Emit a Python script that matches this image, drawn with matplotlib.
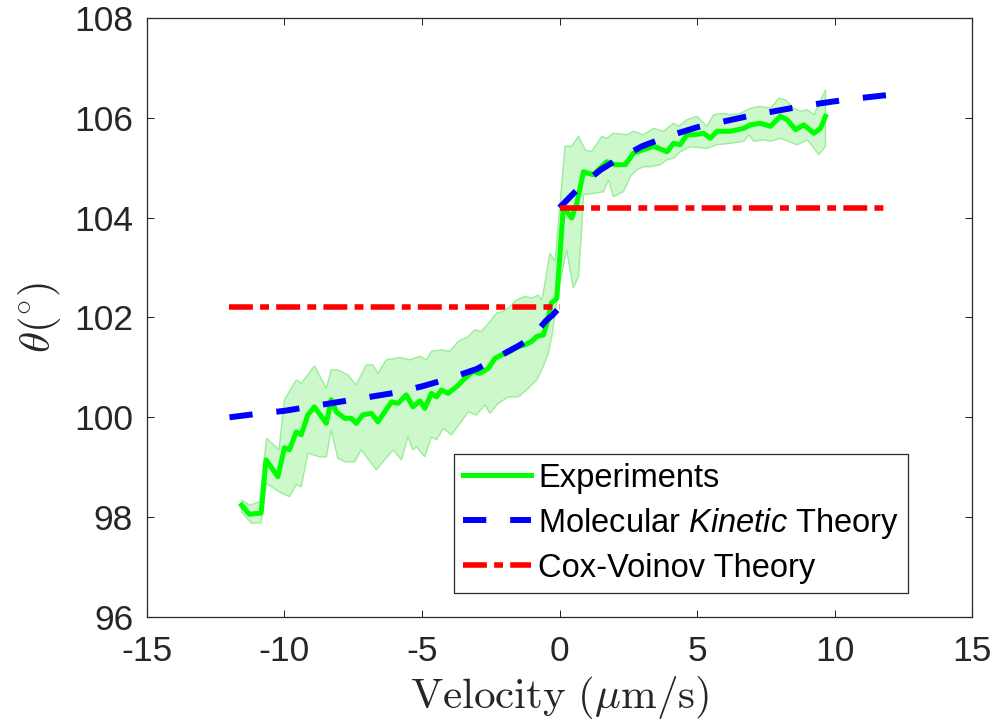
import matplotlib
matplotlib.use('Agg')
import matplotlib.pyplot as plt
import numpy as np

plt.rcParams['font.family'] = ['Liberation Sans', 'DejaVu Sans']
plt.rcParams['mathtext.fontset'] = 'custom'
plt.rcParams['mathtext.rm'] = 'Liberation Sans'
plt.rcParams['mathtext.it'] = 'Liberation Sans:italic'
plt.rcParams['axes.unicode_minus'] = False

# experiments: mean contact angle vs velocity
x_exp = [-11.56, -11.28, -10.85, -10.67, -10.24, -10.0, -9.82, -9.57, -9.39, -9.15,
         -8.91, -8.48, -8.30, -8.12, -7.81, -7.57, -7.39, -7.15, -6.84, -6.60,
         -6.11, -5.87, -5.57, -5.33, -5.08, -4.90, -4.66, -4.47, -4.29, -4.05,
         -3.75, -3.44, -3.14, -2.90, -2.59, -2.35, -2.11, -1.80, -1.50, -1.26,
         -1.01, -0.83, -0.59, -0.45, -0.30, -0.10, 0.02, 0.14, 0.44, 0.63,
         0.87, 1.23, 1.72, 2.02, 2.39, 2.69, 3.05, 3.42, 3.60, 3.91,
         4.15, 4.39, 4.63, 4.87, 5.24, 5.48, 5.73, 6.21, 6.46, 6.70,
         6.94, 7.30, 7.67, 8.03, 8.28, 8.58, 8.88, 9.25, 9.49, 9.67]
y_exp = [98.24, 98.06, 98.08, 99.15, 98.81, 99.39, 99.35, 99.71, 99.65, 100.05,
         100.21, 99.88, 100.35, 100.11, 99.98, 99.98, 99.88, 100.05, 100.08, 99.91,
         100.31, 100.28, 100.45, 100.21, 100.33, 100.18, 100.48, 100.41, 100.55, 100.48,
         100.61, 100.78, 100.92, 100.88, 100.98, 101.18, 101.25, 101.32, 101.42, 101.45,
         101.52, 101.62, 101.65, 101.90, 102.29, 102.38, 103.30, 104.22, 103.99, 104.29,
         104.92, 104.86, 105.12, 105.06, 105.06, 105.29, 105.36, 105.43, 105.39, 105.32,
         105.49, 105.46, 105.66, 105.66, 105.69, 105.59, 105.73, 105.73, 105.76, 105.79,
         105.86, 105.89, 105.83, 106.03, 105.96, 105.76, 105.86, 105.69, 105.79, 106.03]

# spread of the experiments (upper / lower edge)
x_up = [-11.56, -11.25, -10.9, -10.65, -10.2, -10.0, -9.57, -9.39, -8.91, -8.48,
        -8.30, -8.06, -7.7, -7.39, -7.03, -6.79, -6.6, -6.3, -5.8, -5.45,
        -5.08, -4.84, -4.66, -4.29, -3.99, -3.69, -3.32, -3.08, -2.83, -2.53,
        -2.28, -2.05, -1.80, -1.56, -1.26, -1.01, -0.77, -0.65, -0.59, -0.35,
        -0.16, 0.20, 0.44, 0.69, 0.93, 1.17, 1.54, 1.72, 1.96, 2.45,
        2.69, 3.05, 3.42, 3.78, 4.15, 4.33, 4.63, 5.00, 5.36, 5.60,
        5.97, 6.21, 6.58, 6.94, 7.30, 7.67, 7.97, 8.21, 8.52, 8.76,
        9.01, 9.25, 9.67]
y_up = [98.34, 98.24, 98.31, 99.58, 99.35, 100.35, 100.75, 100.68, 101.03, 100.58,
        100.95, 100.95, 100.85, 100.65, 101.05, 101.05, 100.88, 101.15, 101.20, 101.15,
        101.22, 101.15, 101.32, 101.35, 101.32, 101.52, 101.62, 101.75, 101.72, 101.92,
        102.09, 102.12, 102.22, 102.35, 102.42, 102.39, 102.45, 102.35, 102.49, 103.29,
        103.12, 105.43, 105.43, 105.63, 105.36, 105.32, 105.63, 105.59, 105.69, 105.66,
        105.73, 105.66, 105.79, 105.73, 105.89, 105.83, 105.96, 106.03, 105.83, 106.06,
        106.09, 106.06, 106.09, 106.19, 106.23, 106.19, 106.39, 106.36, 106.19, 106.13,
        106.16, 106.06, 106.56]
x_lo = [-11.56, -11.2, -10.85, -10.67, -10.2, -9.82, -9.57, -9.39, -9.15, -8.72,
        -8.48, -8.30, -8.06, -7.81, -7.45, -7.21, -6.66, -6.05, -5.75, -5.51,
        -5.33, -5.20, -4.90, -4.66, -4.47, -4.23, -3.93, -3.62, -3.32, -3.02,
        -2.71, -2.53, -2.23, -1.86, -1.50, -1.14, -0.83, -0.59, -0.41, -0.28,
        -0.16, 0.02, 0.26, 0.50, 0.69, 0.81, 0.87, 1.29, 1.60, 1.78,
        1.96, 2.32, 2.57, 2.81, 3.05, 3.30, 3.66, 3.91, 4.15, 4.39,
        4.75, 5.36, 5.73, 6.21, 6.70, 6.88, 7.06, 7.43, 7.67, 8.03,
        8.64, 9.01, 9.43, 9.67]
y_lo = [98.10, 97.88, 97.89, 98.68, 98.51, 98.41, 98.65, 98.61, 99.28, 99.21,
        99.21, 99.75, 99.18, 99.11, 99.11, 99.35, 98.95, 99.35, 99.15, 99.61,
        99.35, 99.41, 99.21, 99.61, 99.55, 99.78, 99.65, 99.88, 100.11, 100.05,
        100.25, 100.08, 100.28, 100.41, 100.41, 100.58, 100.75, 101.02, 101.28, 101.62,
        102.09, 102.70, 103.36, 102.59, 102.82, 103.82, 104.46, 104.49, 104.52, 104.76,
        104.42, 104.52, 104.82, 104.96, 105.02, 105.02, 105.06, 105.16, 105.19, 105.32,
        105.42, 105.39, 105.46, 105.49, 105.53, 105.66, 105.53, 105.56, 105.53, 105.59,
        105.46, 105.56, 105.26, 105.43]

# molecular kinetic theory (receding branch, advancing branch)
x_mkt_r = [-12, -11, -10, -9, -8, -7, -6, -5, -4, -3, -2, -1.5, -1, -0.5, -0.25, 0]
y_mkt_r = [100.0, 100.07, 100.13, 100.22, 100.31, 100.40, 100.49, 100.62, 100.78, 100.97,
           101.28, 101.43, 101.60, 101.93, 102.05, 102.2]
x_mkt_a = [0, 0.5, 1, 1.5, 2, 3, 4, 5, 6, 7, 8, 9, 10, 11, 12]
y_mkt_a = [104.2, 104.48, 104.74, 104.96, 105.13, 105.43, 105.64, 105.81, 105.93, 106.05,
           106.15, 106.25, 106.33, 106.40, 106.46]

# cox-voinov theory
x_cv = [-12, 0, np.nan, 0, 12]
y_cv = [102.2, 102.2, np.nan, 104.2, 104.2]

fig = plt.figure(figsize=(9.97, 7.27), dpi=100)
ax = fig.add_axes([0.1474, 0.1513, 0.8276, 0.824])

band_x = x_up + x_lo[::-1]
band_y = y_up + y_lo[::-1]
ax.fill(band_x, band_y, facecolor='#ccf8cc', edgecolor='#9cec9c', linewidth=1.0, zorder=1)

ax.plot(x_exp, y_exp, color=(0, 1, 0), linewidth=3.6, label='Experiments', zorder=2)
ax.plot(x_mkt_r, y_mkt_r, color=(0, 0, 1), linewidth=4.3, dashes=(3.9, 4.0),
        label=r'Molecular $\mathit{Kinetic}$ Theory', zorder=3)
ax.plot(x_mkt_a, y_mkt_a, color=(0, 0, 1), linewidth=4.3, dashes=(3.9, 4.0), zorder=3)
ax.plot(x_cv, y_cv, color=(1, 0, 0), linewidth=4.0, dashes=(4.3, 1.3, 1.6, 1.3),
        label='Cox-Voinov Theory', zorder=4)

ax.set_xlim(-15, 15)
ax.set_ylim(96, 108)
ax.set_xticks(np.arange(-15, 16, 5))
ax.set_yticks(np.arange(96, 109, 2))

dark = (0.15, 0.15, 0.15)
for s in ax.spines.values():
    s.set_color(dark)
    s.set_linewidth(0.9)
ax.tick_params(axis='both', direction='in', length=5, width=0.75, color=dark,
               labelcolor=dark, labelsize=25.5, top=True, right=True)
ax.tick_params(axis='x', pad=13)
ax.tick_params(axis='y', pad=10)

ax.set_xlabel(r'$\mathrm{Velocity}\ (\mu\mathrm{m/s})$', fontsize=31, math_fontfamily='cm',
              labelpad=4, color=dark)
ax.set_ylabel(r'$\theta(^{\circ})$', fontsize=31, math_fontfamily='cm', labelpad=8, color=dark)

leg = ax.legend(loc='lower right', bbox_to_anchor=(0.9224, 0.040), borderaxespad=0,
                fontsize=23.5, handlelength=2.1, handletextpad=0.2, labelspacing=0.37,
                borderpad=0.28, fancybox=False, framealpha=1, edgecolor=dark)
leg.get_frame().set_linewidth(0.9)
for t in leg.get_texts():
    t.set_color('black')

fig.savefig('out.png', dpi=100)
